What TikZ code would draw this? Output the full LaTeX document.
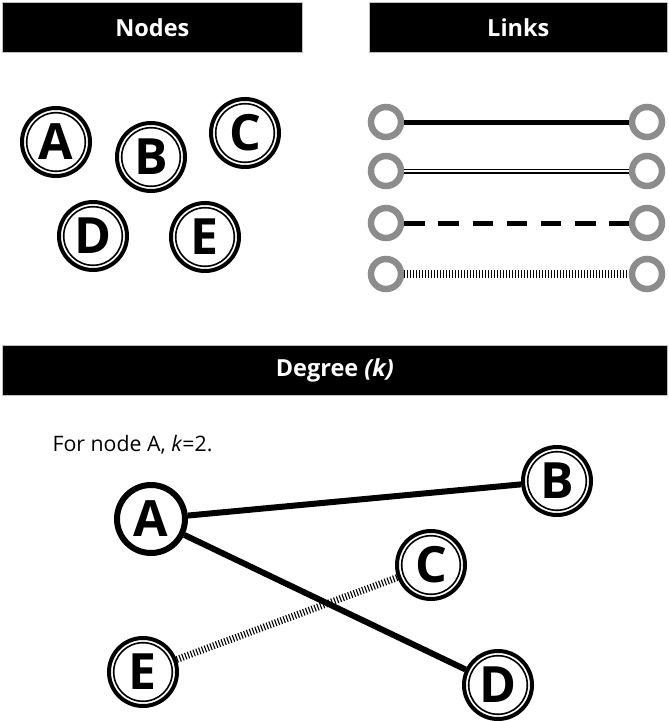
\documentclass[tikz,border=0pt]{standalone}
\usepackage{fontspec}
\setmainfont{Open Sans}
\definecolor{ringgray}{HTML}{8C8C8C}
\begin{document}
\begin{tikzpicture}[x=1pt,y=-1pt,
  bar/.style={fill=black, draw=gray!50, line width=0.6, anchor=north west, inner sep=0,
    text=white, font=\fontsize{23.5}{28}\selectfont\bfseries},
  dnode/.style={circle, draw, line width=4, minimum size=68, inner sep=0,
    font=\fontsize{50}{50}\selectfont\bfseries,
    path picture={\draw[line width=1.6] (path picture bounding box.center) circle (29.3);}},
  hnode/.style={circle, draw, line width=6, minimum size=68, inner sep=0,
    font=\fontsize{50}{50}\selectfont\bfseries},
  ringnode/.style={circle, draw=ringgray, line width=6.5, minimum size=30, inner sep=0},
  solidlink/.style={line width=5},
  doublelink/.style={line width=1.4, double, double distance=2.2},
  dashlink/.style={line width=5, dash pattern=on 20.4pt off 13.8pt},
  hatchlink/.style={line width=8, dash pattern=on 1.1pt off 1.9pt},
  edge/.style={line width=6}
]
\useasboundingbox (0,0) rectangle (669,721);

% headers
\node[bar, minimum width=300, minimum height=50] (hnodes) at (2,2) {Nodes};
\node[bar, minimum width=298, minimum height=50] (hlinks) at (369,2) {Links};
\node[bar, minimum width=665, minimum height=50] (hdeg) at (2,345) {Degree \textit{(k)}};

% nodes panel
\node[dnode] (nA) at (56,142) {A};
\node[dnode] (nB) at (151,157) {B};
\node[dnode] (nC) at (245,133) {C};
\node[dnode] (nD) at (93,236) {D};
\node[dnode] (nE) at (205,237) {E};

% links panel
\foreach \i/\y in {1/122,2/171,3/223,4/274} {
  \node[ringnode] (l\i) at (386,\y) {};
  \node[ringnode] (r\i) at (647,\y) {};
}
\draw[solidlink] (l1) -- (r1);
\draw[doublelink] (l2) -- (r2);
\draw[dashlink] (l3) -- (r3);
\draw[hatchlink] (l4) -- (r4);

% degree panel
\node[anchor=base west, font=\fontsize{21.3}{25}\selectfont] (txt) at (49,451) {For node A, \textit{k}=2.};
\node[hnode] (bA) at (151,519) {A};
\node[dnode] (bB) at (557,481) {B};
\node[dnode] (bC) at (431,565) {C};
\node[dnode] (bD) at (498,685) {D};
\node[dnode] (bE) at (143,672) {E};
\draw[edge] (bA) -- (bB);
\draw[edge] (bA) -- (bD);
\draw[hatchlink, line width=7] (bE) -- (bC);
\end{tikzpicture}
\end{document}
